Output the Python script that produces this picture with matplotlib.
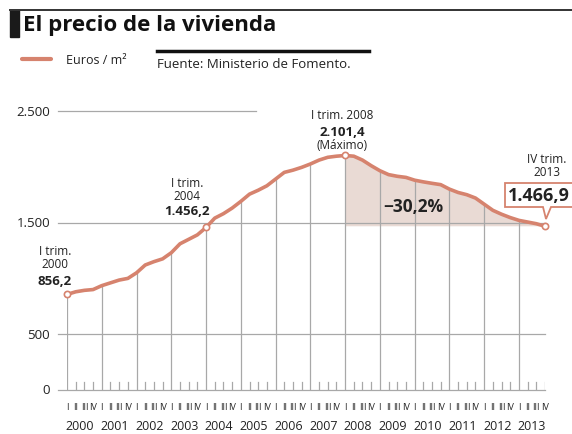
import numpy as np
import matplotlib.pyplot as plt
from matplotlib.patches import Polygon

# euros / m2, quarterly, 2000 Q1 .. 2013 Q4
precio = [856.2, 880, 893, 900,
          935, 960, 985, 1000,
          1050, 1120, 1150, 1175,
          1230, 1310, 1350, 1390,
          1456.2, 1540, 1580, 1630,
          1690, 1755, 1790, 1830,
          1890, 1950, 1970, 1995,
          2025, 2060, 2085, 2095,
          2101.4, 2095, 2060, 2010,
          1965, 1930, 1915, 1905,
          1880, 1865, 1852, 1840,
          1800, 1770, 1750, 1720,
          1665, 1610, 1575, 1545,
          1520, 1505, 1490, 1466.9]
years = list(range(2000, 2014))
quarters = ["I", "II", "III", "IV"]
yticks = [0, 500, 1500, 2500]
ytick_labels = ["0", "500", "1.500", "2.500"]

LINE = "#d6836e"
FILL = "#e9dad4"
GRID = "#a8a8a8"
TXT = "#222222"
FONT = "Open Sans"

plt.rcParams['font.family'] = [FONT, 'DejaVu Sans']

fig = plt.figure(figsize=(5.72, 4.35), dpi=100)
W, H = 572.0, 435.0
# plot area in pixels: x 67..545, y(0)=391, y(2500)=112
ax = fig.add_axes([67 / W, (H - 391) / H, (545 - 67) / W, (391 - 112) / H])
ax.set_xlim(0, 55)
ax.set_ylim(0, 2500)
ax.axis("off")

x = np.arange(len(precio))
px = 55 / (545 - 67.0)  # data units per pixel in x

# horizontal grid
ax.plot([-9 * px, 21.7], [2500, 2500], color=GRID, lw=0.9, clip_on=False)
for yv in [0, 500, 1500]:
    ax.plot([-9 * px, 55], [yv, yv], color=GRID, lw=0.9, clip_on=False)
for yv, lab in zip(yticks, ytick_labels):
    ax.text(-17 * px, yv, lab, ha="right", va="center", fontsize=9.5, color=TXT)

# vertical year lines up to the curve, quarter ticks
for i, yr in enumerate(years):
    q0 = i * 4
    ax.plot([q0, q0], [0, precio[q0]], color=GRID, lw=0.9, zorder=1)
    for k in range(1, 4):
        qi = q0 + k
        ax.plot([qi, qi], [0, 75], color=GRID, lw=0.9, zorder=1)
    for k, ql in enumerate(quarters):
        ax.text(q0 + k, -150, ql, ha="center", va="center", fontsize=6.5, color=TXT)
    ax.text(q0 + 1.5, -322, str(yr), ha="center", va="center", fontsize=9, color=TXT)

# shaded drop from the peak
i_max = int(np.argmax(precio))
last = precio[-1]
pts = [(xi, yi) for xi, yi in zip(x[i_max:], precio[i_max:])]
pts += [(x[-1], last), (x[i_max], last)]
ax.add_patch(Polygon(pts, closed=True, facecolor=FILL, edgecolor="none", zorder=0.5))

ax.plot(x, precio, color=LINE, lw=2.6, solid_capstyle="round", zorder=3, clip_on=False)
for idx in [0, 16, i_max, len(precio) - 1]:
    ax.plot(x[idx], precio[idx], "o", ms=4.5, mfc="white", mec=LINE, mew=1.2, zorder=4, clip_on=False)

# annotations
ax.text(-1.4, 1190, "I trim.\n2000", ha="center", va="center", fontsize=8.5, color=TXT, linespacing=1.0)
ax.text(-1.4, 985, "856,2", ha="center", va="center", fontsize=9.5, fontweight="bold", color=TXT)
ax.text(13.8, 1805, "I trim.\n2004", ha="center", va="center", fontsize=8.5, color=TXT, linespacing=1.0)
ax.text(13.8, 1610, "1.456,2", ha="center", va="center", fontsize=9.5, fontweight="bold", color=TXT)
ax.text(31.7, 2470, "I trim. 2008", ha="center", va="center", fontsize=8.5, color=TXT)
ax.text(31.7, 2320, "2.101,4", ha="center", va="center", fontsize=9.5, fontweight="bold", color=TXT)
ax.text(31.7, 2200, "(Máximo)", ha="center", va="center", fontsize=8.5, color=TXT)
ax.text(39.8, 1650, "\u221230,2%", ha="center", va="center", fontsize=12.5, fontweight="bold", color=TXT)
ax.text(55.2, 2020, "IV trim.\n2013", ha="center", va="center", fontsize=8.5, color=TXT, linespacing=1.0)

# callout box for last value
bx0, bx1 = 505, 580
by0, by1 = 184, 208
def to_data(pxx, pyy):
    return (pxx - 67) * px, (391 - pyy) / (391 - 112.0) * 2500
box = [to_data(bx0, by0), to_data(bx1, by0), to_data(bx1, by1), to_data(551, by1),
       to_data(546, 220), to_data(543, by1), to_data(bx0, by1)]
ax.add_patch(Polygon(box, closed=True, facecolor="white", edgecolor=LINE, lw=1.3,
                     zorder=5, clip_on=False))
tx, ty = to_data(508, 196)
ax.text(tx, ty, "1.466,9", ha="left", va="center", fontsize=13, fontweight="bold",
        color=TXT, zorder=6, clip_on=False)

# header
fig.add_artist(plt.Line2D([10 / W, 1], [1 - 11 / H, 1 - 11 / H], color="#333333", lw=1.4))
fig.add_artist(plt.Rectangle((10 / W, 1 - 38 / H), 9 / W, 27 / H, color="#1a1a1a"))
fig.text(23 / W, 1 - 26 / H, "El precio de la vivienda", ha="left", va="center",
         fontsize=16, fontweight="bold", color="#111111")
fig.add_artist(plt.Line2D([22 / W, 51 / W], [1 - 60 / H, 1 - 60 / H], color=LINE, lw=3,
                          solid_capstyle="round"))
fig.text(66 / W, 1 - 60 / H, "Euros / m²", ha="left", va="center", fontsize=9, color=TXT)
fig.add_artist(plt.Line2D([157 / W, 369 / W], [1 - 52 / H, 1 - 52 / H], color="#111111", lw=2.5))
fig.text(157 / W, 1 - 64 / H, "Fuente: Ministerio de Fomento.", ha="left", va="center",
         fontsize=9.5, color=TXT)

fig.savefig("out.png", dpi=100)
